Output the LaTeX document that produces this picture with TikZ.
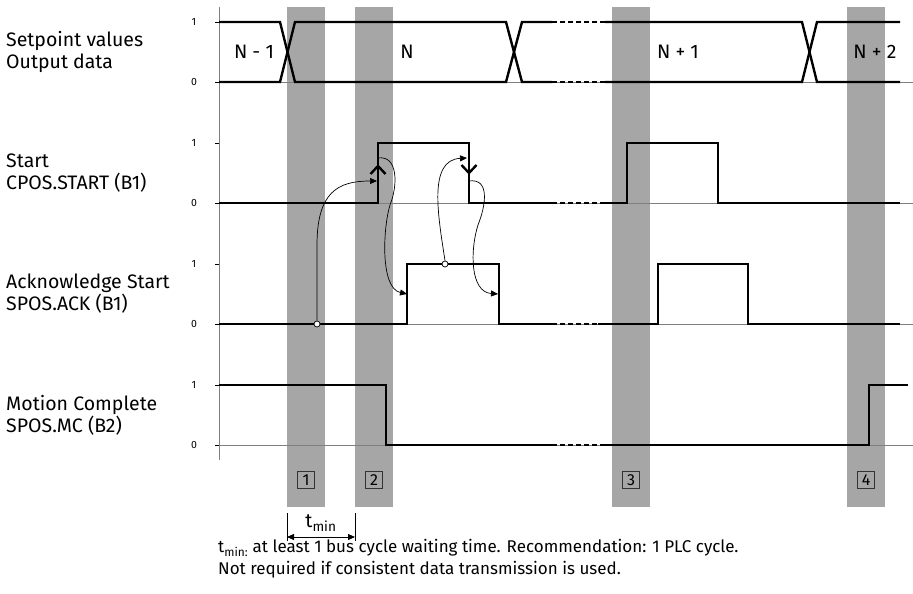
\documentclass[tikz,border=0pt]{standalone}
\usepackage{fontspec}
\setmainfont{Fira Sans}
\usetikzlibrary{arrows.meta}
\definecolor{barc}{HTML}{A6A6A6}
\definecolor{basec}{HTML}{808080}
\begin{document}
\begin{tikzpicture}[x=1pt,y=-1pt,
  sig/.style={line width=2.4pt, line join=miter},
  sigdash/.style={line width=2.4pt, dash pattern=on 5pt off 3pt},
  baseline/.style={draw=basec, line width=0.8pt},
  tickmark/.style={line width=0.8pt},
  lbl/.style={anchor=west, align=left, font=\fontsize{19.5}{22}\selectfont, inner sep=0pt},
  lvl/.style={font=\fontsize{10.5}{11}\selectfont, inner sep=0pt},
  busl/.style={font=\fontsize{19.5}{20}\selectfont, inner sep=0pt},
  numbox/.style={draw=black!80, line width=0.6pt, minimum size=16.5pt, inner sep=0pt, font=\fontsize{16}{16}\selectfont},
  flow/.style={line width=0.7pt, -{Triangle[length=7pt,width=6pt]}},
  dot/.style={circle, draw, line width=0.7pt, fill=white, minimum size=6pt, inner sep=0pt},
  chev/.style={line width=2.4pt},
  note/.style={anchor=west, align=left, font=\fontsize{17}{22}\selectfont, inner sep=0pt},
]
\useasboundingbox (0,0) rectangle (913,594);

% grey bars with numbers
\foreach \a/\b [count=\i] in {287/325,355/393,612/650,847/885}{
  \fill[barc] (\a,7) rectangle (\b,507);
  \node[numbox] (n\i) at ({(\a+\b)/2},480) {\i};
}

% axis
\draw[draw=basec, line width=0.9pt] (219,7) -- (219,460);

% baselines and ticks
\foreach \t/\z in {22/82,143/203,264/324,385/445}{
  \draw[baseline] (219,\z) -- (913,\z);
  \draw[tickmark] (215,\t) -- (219,\t);
  \draw[tickmark] (215,\z) -- (219,\z);
  \node[lvl] at (194,\t) {1};
  \node[lvl] at (194,\z) {0};
}

% left labels
\node[lbl] (l1) at (6,52) {Setpoint values\\Output data};
\node[lbl] (l2) at (6,173) {Start\\CPOS.START (B1)};
\node[lbl] (l3) at (6,294) {Acknowledge Start\\SPOS.ACK (B1)};
\node[lbl] (l4) at (6,415) {Motion Complete\\SPOS.MC (B2)};

% setpoint bus
\draw[sig] (219,22) -- (280,22) -- (295,82) -- (506,82) -- (522,22) -- (552,22);
\draw[sig] (219,82) -- (280,82) -- (295,22) -- (506,22) -- (522,82) -- (552,82);
\draw[sigdash] (552,22) -- (605,22);
\draw[sigdash] (552,82) -- (605,82);
\draw[sig] (605,22) -- (802,22) -- (817,82) -- (900,82);
\draw[sig] (605,82) -- (802,82) -- (817,22) -- (900,22);
\node[busl] (b1) at (254,52) {N - 1};
\node[busl] (b2) at (407,52) {N};
\node[busl] (b3) at (678,52) {N + 1};
\node[busl] (b4) at (875,52) {N + 2};

% start
\draw[sig] (219,203) -- (378,203) -- (378,143) -- (469,143) -- (469,203) -- (552,203);
\draw[sigdash] (552,203) -- (600,203);
\draw[sig] (600,203) -- (627,203) -- (627,143) -- (718,143) -- (718,203) -- (900,203);
\draw[chev] (370.5,174) -- (378,166) -- (385.5,174);
\draw[chev] (461.5,165) -- (469,173) -- (476.5,165);

% acknowledge
\draw[sig] (219,324) -- (407,324) -- (407,264) -- (499,264) -- (499,324) -- (552,324);
\draw[sigdash] (552,324) -- (598,324);
\draw[sig] (598,324) -- (658,324) -- (658,264) -- (748,264) -- (748,324) -- (900,324);

% motion complete
\draw[sig] (219,385) -- (386,385) -- (386,445) -- (552,445);
\draw[sigdash] (552,445) -- (605,445);
\draw[sig] (605,445) -- (869,445) -- (869,385) -- (908,385);

% flow arrows
\node[dot] (c1) at (317,324) {};
\node[dot] (c2) at (445,264) {};
\coordinate (sr) at (378,158);
\coordinate (sf) at (469,181);
\coordinate (ta) at (377,181);
\coordinate (tb) at (407,294);
\coordinate (tc) at (467,158);
\coordinate (td) at (498,294);
\draw[flow] (c1.north) -- (317,245) .. controls (317,192) and (338,181) .. (ta);
\draw[flow] (sr) .. controls (398,155) and (398,185) .. (390,205) .. controls (383,228) and (380,288) .. (tb);
\draw[flow] (c2.north) .. controls (438,215) and (428,160) .. (tc);
\draw[flow] (sf) .. controls (490,178) and (486,205) .. (478,225) .. controls (470,250) and (470,292) .. (td);

% t_min dimension
\coordinate (d1) at (287,537);
\coordinate (d2) at (355,537);
\draw[line width=0.8pt] (287,513) -- (287,541);
\draw[line width=0.8pt] (355,513) -- (355,541);
\draw[line width=0.8pt, {Triangle[length=7pt,width=6pt]}-{Triangle[length=7pt,width=6pt]}] (d1) -- (d2);
\node[busl] (tm) at (321,523) {t\textsubscript{min}};

% note
\node[note] (nt) at (218,559) {t\textsubscript{min:} at least 1 bus cycle waiting time. Recommendation: 1 PLC cycle.\\Not required if consistent data transmission is used.};
\end{tikzpicture}
\end{document}
